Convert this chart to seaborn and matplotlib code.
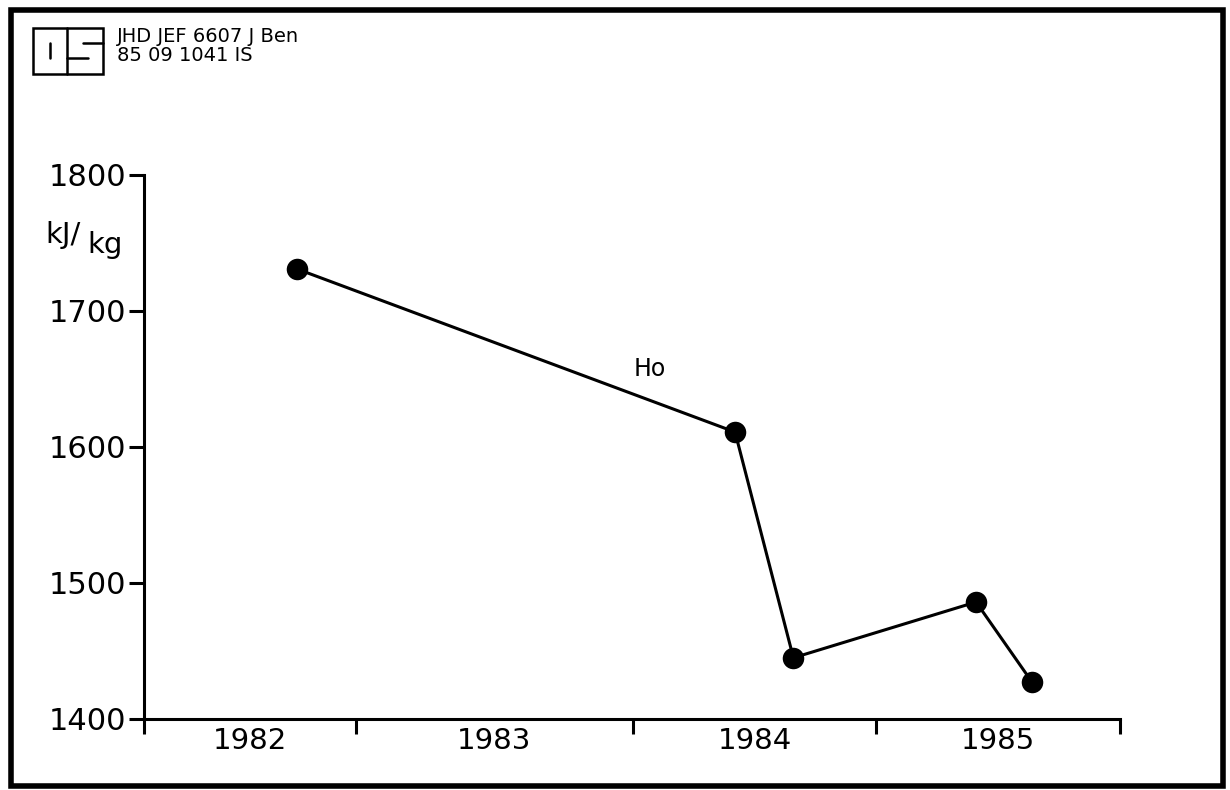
import numpy as np
import pandas as pd
import matplotlib
matplotlib.use("Agg")
import matplotlib.pyplot as plt
from matplotlib.patches import Rectangle
from matplotlib.lines import Line2D
import seaborn as sns

# ── Data ──────────────────────────────────────────────────────────────────────
DATES       = [1982.72, 1984.42, 1984.66, 1985.41, 1985.64]   # decimal years
ENTHALPY    = [1731, 1611, 1445, 1486, 1427]                  # kJ/kg
YEAR_EDGES  = [1982, 1983, 1984, 1985, 1986]
YEAR_LABELS = ["1982", "1983", "1984", "1985"]
Y_TICKS     = [1400, 1500, 1600, 1700, 1800]
HEADER      = ["JHD JEF 6607 J Ben", "85 09 1041 IS"]
SERIES_NAME = "Ho"

# hand-drawn year boundaries are not evenly spaced -> piecewise scale
EDGE_SPAN = [0, 212, 489, 732, 976]

W, H = 1230, 790


def fwd(x):
    return np.interp(np.asarray(x, dtype=float), YEAR_EDGES, EDGE_SPAN)


def inv(x):
    return np.interp(np.asarray(x, dtype=float), EDGE_SPAN, YEAR_EDGES)


def fx(px):
    return px / W


def fy(py):
    return 1 - py / H


sns.set_theme(style="white")
plt.rcParams["font.family"] = ["DejaVu Sans"]

df = pd.DataFrame({"date": DATES, "enthalpy": ENTHALPY})

fig = plt.figure(figsize=(12.3, 7.9), dpi=100)
ax = fig.add_axes([fx(144), fy(719), fx(1120) - fx(144), fy(175) - fy(719)])
ax.set_xscale("function", functions=(fwd, inv))

sns.lineplot(data=df, x="date", y="enthalpy", ax=ax, color="black",
             linewidth=2.2, marker="o", markersize=15.5, markeredgewidth=0)

ax.set_xlim(YEAR_EDGES[0], YEAR_EDGES[-1])
ax.set_ylim(Y_TICKS[0], Y_TICKS[-1])
ax.set_xlabel("")
ax.set_ylabel("")

# year boundaries as major ticks, year names centred between them
ax.set_xticks(YEAR_EDGES)
ax.set_xticklabels([""] * len(YEAR_EDGES))
mids = [(a + b) / 2 for a, b in zip(YEAR_EDGES[:-1], YEAR_EDGES[1:])]
ax.set_xticks(mids, minor=True)
ax.set_xticklabels(YEAR_LABELS, minor=True, fontsize=21)
ax.set_yticks(Y_TICKS)
ax.set_yticklabels([str(v) for v in Y_TICKS], fontsize=22)

ax.tick_params(axis="x", which="major", direction="out", length=11, width=2.2,
               color="black", bottom=True)
ax.tick_params(axis="x", which="minor", length=0, pad=6, labelcolor="black", bottom=True)
ax.tick_params(axis="y", direction="out", length=11, width=2.2, pad=2,
               color="black", labelcolor="black", left=True)

for side in ["top", "right"]:
    ax.spines[side].set_visible(False)
for side in ["left", "bottom"]:
    ax.spines[side].set_color("black")
    ax.spines[side].set_linewidth(2.2)
ax.grid(False)

# series label and unit
ax.text(1984.07, 1657, SERIES_NAME, fontsize=17, ha="center", va="center", color="black")
fig.text(fx(45), fy(243), "kJ/", fontsize=21, ha="left", va="baseline", color="black")
fig.text(fx(87), fy(253), "kg", fontsize=21, ha="left", va="baseline", color="black")

# header text
fig.text(fx(117), fy(42), HEADER[0], fontsize=14, ha="left", va="baseline", color="black")
fig.text(fx(117), fy(61), HEADER[1], fontsize=14, ha="left", va="baseline", color="black")

# logo box
logo_lw = 1.8
fig.add_artist(Rectangle((fx(33), fy(74)), fx(103) - fx(33), fy(28) - fy(74),
                         transform=fig.transFigure, fill=False, lw=logo_lw, color="black"))
segments = [
    ((67, 28), (67, 74)),   # divider
    ((50, 43), (50, 58)),   # "I"
    ((67, 58), (88, 58)),   # middle bar
    ((83, 43), (103, 43)),  # upper stub
]
for (x0, y0), (x1, y1) in segments:
    fig.add_artist(Line2D([fx(x0), fx(x1)], [fy(y0), fy(y1)],
                          transform=fig.transFigure, lw=logo_lw, color="black"))

# outer frame
fig.add_artist(Rectangle((fx(11), fy(786)), fx(1223) - fx(11), fy(10) - fy(786),
                         transform=fig.transFigure, fill=False, lw=4, color="black"))

fig.savefig("out.png", dpi=100, facecolor="white")
